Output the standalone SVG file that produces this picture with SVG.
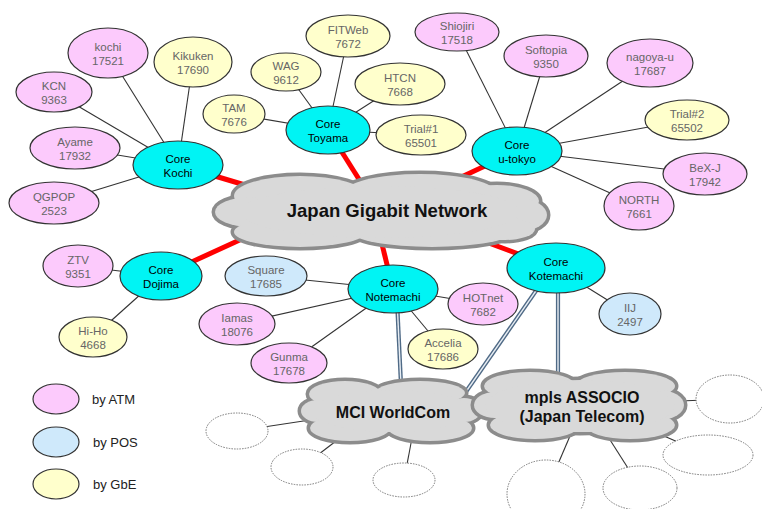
<svg xmlns="http://www.w3.org/2000/svg" xmlns:xlink="http://www.w3.org/1999/xlink" width="762" height="509" viewBox="0 0 762 509">
<style>
.atm{fill:#fccafc}
.pos{fill:#cfe9fb}
.gbe{fill:#ffffcc}
.core{fill:#00f4f4}
.n{stroke:#333;stroke-width:1.2}
.dot{fill:#fff;stroke:#777;stroke-width:1;stroke-dasharray:1.5 1.2}
text{font-family:"Liberation Sans",Arial,sans-serif}
.l{font-size:11.5px;fill:#666;text-anchor:middle}
.c{font-size:11.5px;fill:#000;text-anchor:middle}
.big{font-weight:bold;fill:#111;text-anchor:middle}
.leg{font-size:13px;fill:#222}
.thin{stroke:#333;stroke-width:1.1;fill:none}
.red{stroke:#ff0000;stroke-width:5;fill:none}
.dblo{stroke:#4f6a86;stroke-width:4.2;fill:none}
.dbli{stroke:#e8eef4;stroke-width:1.4;fill:none}
.cs{fill:#8c8c8c;stroke:#8c8c8c;stroke-width:7}
.cf{fill:#d9d9d9;stroke:none}
</style>
<defs>
<g id="cjgn">
<ellipse cx="300" cy="196" rx="66" ry="20"/>
<ellipse cx="420" cy="193" rx="76" ry="19"/>
<ellipse cx="497" cy="201" rx="42" ry="16"/>
<ellipse cx="521" cy="215" rx="26" ry="16"/>
<ellipse cx="250" cy="212" rx="35" ry="15"/>
<ellipse cx="300" cy="232" rx="66" ry="15"/>
<ellipse cx="432" cy="232" rx="80" ry="15"/>
<ellipse cx="505" cy="229" rx="30" ry="11"/>
<ellipse cx="380" cy="212" rx="140" ry="26"/>
</g>
<g id="cmci">
<ellipse cx="345" cy="394" rx="36" ry="13"/>
<ellipse cx="420" cy="393" rx="45" ry="12"/>
<ellipse cx="464" cy="410" rx="17" ry="12"/>
<ellipse cx="318" cy="411" rx="17" ry="11"/>
<ellipse cx="350" cy="428" rx="40" ry="13"/>
<ellipse cx="430" cy="428" rx="42" ry="13"/>
<ellipse cx="392" cy="411" rx="80" ry="21"/>
</g>
<g id="cmpls">
<ellipse cx="530" cy="386" rx="46" ry="14"/>
<ellipse cx="625" cy="386" rx="50" ry="14"/>
<ellipse cx="660" cy="405" rx="24" ry="15"/>
<ellipse cx="495" cy="405" rx="21" ry="13"/>
<ellipse cx="535" cy="425" rx="45" ry="14"/>
<ellipse cx="630" cy="425" rx="45" ry="14"/>
<ellipse cx="580" cy="406" rx="95" ry="26"/>
</g>
</defs>
<rect x="0" y="0" width="762" height="509" fill="#fff"/>

<g id="connectors">
<g class="thin">
<line x1="178" y1="165" x2="108" y2="53"/>
<line x1="178" y1="165" x2="193" y2="62"/>
<line x1="178" y1="165" x2="54" y2="92"/>
<line x1="178" y1="165" x2="75" y2="148"/>
<line x1="178" y1="165" x2="54" y2="203"/>
<line x1="328" y1="130" x2="234" y2="114"/>
<line x1="328" y1="130" x2="286" y2="72"/>
<line x1="328" y1="130" x2="348" y2="36"/>
<line x1="328" y1="130" x2="400" y2="84"/>
<line x1="328" y1="130" x2="421" y2="135"/>
<line x1="517" y1="151" x2="457" y2="32"/>
<line x1="517" y1="151" x2="546" y2="56"/>
<line x1="517" y1="151" x2="650" y2="63"/>
<line x1="517" y1="151" x2="687" y2="120"/>
<line x1="517" y1="151" x2="705" y2="174"/>
<line x1="517" y1="151" x2="639" y2="206"/>
<line x1="161" y1="276" x2="78" y2="266"/>
<line x1="161" y1="276" x2="93" y2="337"/>
<line x1="393" y1="289" x2="266" y2="276"/>
<line x1="393" y1="289" x2="237" y2="324"/>
<line x1="393" y1="289" x2="289" y2="363"/>
<line x1="393" y1="289" x2="483" y2="304"/>
<line x1="393" y1="289" x2="443" y2="349"/>
<line x1="556" y1="268" x2="630" y2="314"/>
<line x1="237" y1="431" x2="310" y2="420"/>
<line x1="302" y1="467" x2="340" y2="438"/>
<line x1="404" y1="480" x2="412" y2="438"/>
<line x1="730" y1="399" x2="680" y2="401"/>
<line x1="708" y1="455" x2="650" y2="430"/>
<line x1="546" y1="492" x2="570" y2="436"/>
<line x1="640" y1="487" x2="605" y2="432"/>
</g>
<g class="red">
<line x1="178" y1="165" x2="255" y2="188"/>
<line x1="328" y1="130" x2="362" y2="184"/>
<line x1="517" y1="151" x2="455" y2="180"/>
<line x1="161" y1="276" x2="255" y2="233"/>
<line x1="393" y1="289" x2="380" y2="236"/>
<line x1="556" y1="268" x2="470" y2="236"/>
</g>
<g>
<line class="dblo" x1="397" y1="300" x2="401" y2="385"/>
<line class="dbli" x1="397" y1="300" x2="401" y2="385"/>
<line class="dblo" x1="540" y1="285" x2="463" y2="396"/>
<line class="dbli" x1="540" y1="285" x2="463" y2="396"/>
<line class="dblo" x1="558" y1="290" x2="558" y2="378"/>
<line class="dbli" x1="558" y1="290" x2="558" y2="378"/>
</g>
</g>

<g id="cloud-jgn">
<use xlink:href="#cjgn" href="#cjgn" class="cs"/>
<use xlink:href="#cjgn" href="#cjgn" class="cf"/>
<text class="big" x="387" y="217" font-size="18.5">Japan Gigabit Network</text>
</g>
<g id="cloud-mci">
<use xlink:href="#cmci" href="#cmci" class="cs"/>
<use xlink:href="#cmci" href="#cmci" class="cf"/>
<text class="big" x="393" y="418" font-size="16">MCI WorldCom</text>
</g>
<g id="cloud-mpls">
<use xlink:href="#cmpls" href="#cmpls" class="cs"/>
<use xlink:href="#cmpls" href="#cmpls" class="cf"/>
<text class="big" x="582" y="403" font-size="16">mpls ASSOCIO</text>
<text class="big" x="582" y="422" font-size="16">(Japan Telecom)</text>
</g>

<g id="ext1"><ellipse class="dot" cx="237" cy="431" rx="31" ry="18"/></g>
<g id="ext2"><ellipse class="dot" cx="302" cy="467" rx="31" ry="18"/></g>
<g id="ext3"><ellipse class="dot" cx="404" cy="480" rx="31" ry="17"/></g>
<g id="ext4"><ellipse class="dot" cx="730" cy="399" rx="34" ry="24"/></g>
<g id="ext5"><ellipse class="dot" cx="708" cy="455" rx="45" ry="20"/></g>
<g id="ext6"><ellipse class="dot" cx="546" cy="494" rx="39" ry="34"/></g>
<g id="ext7"><ellipse class="dot" cx="640" cy="488" rx="37" ry="22"/></g>

<g id="kochi"><ellipse class="n atm" cx="108" cy="53" rx="40" ry="25"/><text class="l"><tspan x="108" y="51">kochi</tspan><tspan x="108" y="65">17521</tspan></text></g>
<g id="kikuken"><ellipse class="n gbe" cx="193" cy="62" rx="39" ry="25"/><text class="l"><tspan x="193" y="60">Kikuken</tspan><tspan x="193" y="74">17690</tspan></text></g>
<g id="kcn"><ellipse class="n atm" cx="54" cy="92" rx="38" ry="20"/><text class="l"><tspan x="54" y="90">KCN</tspan><tspan x="54" y="104">9363</tspan></text></g>
<g id="ayame"><ellipse class="n atm" cx="75" cy="148" rx="45" ry="21"/><text class="l"><tspan x="75" y="146">Ayame</tspan><tspan x="75" y="160">17932</tspan></text></g>
<g id="qgpop"><ellipse class="n atm" cx="54" cy="203" rx="45" ry="21"/><text class="l"><tspan x="54" y="201">QGPOP</tspan><tspan x="54" y="215">2523</tspan></text></g>
<g id="core-kochi"><ellipse class="n core" cx="178" cy="165" rx="45" ry="24"/><text class="c"><tspan x="178" y="163">Core</tspan><tspan x="178" y="177">Kochi</tspan></text></g>

<g id="tam"><ellipse class="n gbe" cx="234" cy="114" rx="31" ry="19"/><text class="l"><tspan x="234" y="112">TAM</tspan><tspan x="234" y="126">7676</tspan></text></g>
<g id="wag"><ellipse class="n gbe" cx="286" cy="72" rx="35" ry="19"/><text class="l"><tspan x="286" y="70">WAG</tspan><tspan x="286" y="84">9612</tspan></text></g>
<g id="fitweb"><ellipse class="n gbe" cx="348" cy="36" rx="42" ry="21"/><text class="l"><tspan x="348" y="34">FITWeb</tspan><tspan x="348" y="48">7672</tspan></text></g>
<g id="htcn"><ellipse class="n gbe" cx="400" cy="84" rx="45" ry="21"/><text class="l"><tspan x="400" y="82">HTCN</tspan><tspan x="400" y="96">7668</tspan></text></g>
<g id="trial1"><ellipse class="n gbe" cx="421" cy="135" rx="45" ry="20"/><text class="l"><tspan x="421" y="133">Trial#1</tspan><tspan x="421" y="147">65501</tspan></text></g>
<g id="core-toyama"><ellipse class="n core" cx="328" cy="130" rx="42" ry="24"/><text class="c"><tspan x="328" y="128">Core</tspan><tspan x="328" y="142">Toyama</tspan></text></g>

<g id="shiojiri"><ellipse class="n atm" cx="457" cy="32" rx="42" ry="19"/><text class="l"><tspan x="457" y="30">Shiojiri</tspan><tspan x="457" y="44">17518</tspan></text></g>
<g id="softopia"><ellipse class="n atm" cx="546" cy="56" rx="42" ry="21"/><text class="l"><tspan x="546" y="54">Softopia</tspan><tspan x="546" y="68">9350</tspan></text></g>
<g id="nagoya-u"><ellipse class="n atm" cx="650" cy="63" rx="43" ry="24"/><text class="l"><tspan x="650" y="61">nagoya-u</tspan><tspan x="650" y="75">17687</tspan></text></g>
<g id="trial2"><ellipse class="n gbe" cx="687" cy="120" rx="42" ry="20"/><text class="l"><tspan x="687" y="118">Trial#2</tspan><tspan x="687" y="132">65502</tspan></text></g>
<g id="bex-j"><ellipse class="n atm" cx="705" cy="174" rx="42" ry="21"/><text class="l"><tspan x="705" y="172">BeX-J</tspan><tspan x="705" y="186">17942</tspan></text></g>
<g id="north"><ellipse class="n atm" cx="639" cy="206" rx="35" ry="24"/><text class="l"><tspan x="639" y="204">NORTH</tspan><tspan x="639" y="218">7661</tspan></text></g>
<g id="core-utokyo"><ellipse class="n core" cx="517" cy="151" rx="45" ry="24"/><text class="c"><tspan x="517" y="149">Core</tspan><tspan x="517" y="163">u-tokyo</tspan></text></g>

<g id="ztv"><ellipse class="n atm" cx="78" cy="266" rx="35" ry="21"/><text class="l"><tspan x="78" y="264">ZTV</tspan><tspan x="78" y="278">9351</tspan></text></g>
<g id="hi-ho"><ellipse class="n gbe" cx="93" cy="337" rx="34" ry="20"/><text class="l"><tspan x="93" y="335">Hi-Ho</tspan><tspan x="93" y="349">4668</tspan></text></g>
<g id="core-dojima"><ellipse class="n core" cx="161" cy="276" rx="41" ry="24"/><text class="c"><tspan x="161" y="274">Core</tspan><tspan x="161" y="288">Dojima</tspan></text></g>

<g id="square"><ellipse class="n pos" cx="266" cy="276" rx="41" ry="20"/><text class="l"><tspan x="266" y="274">Square</tspan><tspan x="266" y="288">17685</tspan></text></g>
<g id="iamas"><ellipse class="n atm" cx="237" cy="324" rx="38" ry="21"/><text class="l"><tspan x="237" y="322">Iamas</tspan><tspan x="237" y="336">18076</tspan></text></g>
<g id="gunma"><ellipse class="n atm" cx="289" cy="363" rx="38" ry="20"/><text class="l"><tspan x="289" y="361">Gunma</tspan><tspan x="289" y="375">17678</tspan></text></g>
<g id="hotnet"><ellipse class="n atm" cx="483" cy="304" rx="35" ry="21"/><text class="l"><tspan x="483" y="302">HOTnet</tspan><tspan x="483" y="316">7682</tspan></text></g>
<g id="accelia"><ellipse class="n gbe" cx="443" cy="349" rx="35" ry="20"/><text class="l"><tspan x="443" y="347">Accelia</tspan><tspan x="443" y="361">17686</tspan></text></g>
<g id="core-notemachi"><ellipse class="n core" cx="393" cy="289" rx="45" ry="24"/><text class="c"><tspan x="393" y="287">Core</tspan><tspan x="393" y="301">Notemachi</tspan></text></g>

<g id="core-kotemachi"><ellipse class="n core" cx="556" cy="268" rx="49" ry="25"/><text class="c"><tspan x="556" y="266">Core</tspan><tspan x="556" y="280">Kotemachi</tspan></text></g>
<g id="iij"><ellipse class="n pos" cx="630" cy="314" rx="31" ry="21"/><text class="l"><tspan x="630" y="312">IIJ</tspan><tspan x="630" y="326">2497</tspan></text></g>

<g id="legend">
<g id="legend-atm"><ellipse class="n atm" cx="56" cy="399" rx="23" ry="15"/><text class="leg" x="92" y="404">by ATM</text></g>
<g id="legend-pos"><ellipse class="n pos" cx="56" cy="442" rx="23" ry="15"/><text class="leg" x="93" y="447">by POS</text></g>
<g id="legend-gbe"><ellipse class="n gbe" cx="56" cy="484" rx="23" ry="15"/><text class="leg" x="93" y="489">by GbE</text></g>
</g>
</svg>
